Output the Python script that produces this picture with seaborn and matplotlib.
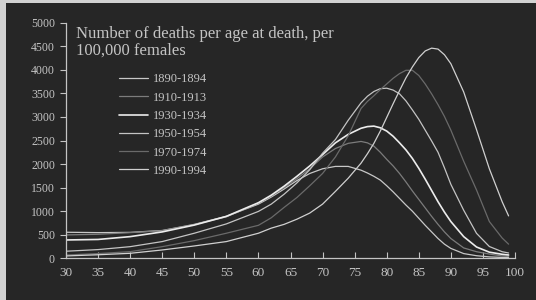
import numpy as np
import pandas as pd
import matplotlib
matplotlib.use("Agg")
import matplotlib.pyplot as plt
from matplotlib.patches import Rectangle
from matplotlib.lines import Line2D
import seaborn as sns

ages = [30, 35, 40, 45, 50, 55, 60, 62, 64, 66, 68, 70, 72, 74, 76, 77, 78, 79,
        80, 81, 82, 83, 84, 85, 86, 87, 88, 89, 90, 92, 94, 96, 98, 99]

deaths_1890 = [553, 545, 550, 590, 720, 890, 1150, 1300, 1470, 1650, 1800, 1900,
               1950, 1950, 1870, 1810, 1740, 1660, 1540, 1410, 1270, 1130, 1000, 850,
               700, 560, 420, 300, 210, 100, 55, 30, 18, 15]
deaths_1910 = [496, 510, 545, 585, 715, 880, 1170, 1320, 1500, 1690, 1900, 2150,
               2330, 2440, 2480, 2450, 2380, 2250, 2100, 1960, 1800, 1620, 1430, 1250,
               1070, 890, 720, 560, 420, 220, 140, 90, 50, 40]
deaths_1930 = [389, 400, 460, 560, 705, 890, 1180, 1340, 1530, 1740, 1960, 2200,
               2450, 2630, 2760, 2795, 2805, 2770, 2700, 2590, 2450, 2300, 2120, 1910,
               1680, 1440, 1200, 980, 780, 460, 240, 130, 85, 70]
deaths_1950 = [150, 185, 247, 355, 532, 730, 995, 1150, 1360, 1600, 1880, 2230,
               2520, 2930, 3300, 3440, 3540, 3600, 3610, 3570, 3490, 3340, 3150, 2950,
               2720, 2490, 2250, 1920, 1570, 1020, 530, 250, 140, 113]
deaths_1970 = [70, 100, 141, 247, 375, 532, 700, 860, 1080, 1290, 1540, 1800,
               2150, 2600, 3180, 3330, 3450, 3580, 3700, 3820, 3920, 3990, 3990, 3880,
               3700, 3490, 3260, 3010, 2720, 2060, 1450, 780, 430, 300]
deaths_1990 = [50, 75, 106, 177, 262, 355, 532, 640, 720, 830, 960, 1150,
               1420, 1700, 2020, 2220, 2440, 2700, 2990, 3280, 3560, 3830, 4060, 4260,
               4400, 4460, 4440, 4320, 4130, 3530, 2730, 1900, 1200, 900]

periods = ["1890-1894", "1910-1913", "1930-1934", "1950-1954", "1970-1974", "1990-1994"]
series = [deaths_1890, deaths_1910, deaths_1930, deaths_1950, deaths_1970, deaths_1990]
colors = ["#c8c8c8", "#7c7c7c", "#ececec", "#c4c4c4", "#6a6a6a", "#d0d0d0"]
widths = [0.9, 0.9, 1.2, 0.9, 0.9, 0.9]

x_ticks = list(range(30, 101, 5))
y_ticks = list(range(0, 5001, 500))
title = "Number of deaths per age at death, per\n100,000 females"

df = pd.DataFrame({
    "age": ages * len(periods),
    "deaths": sum(series, []),
    "period": sum([[p] * len(ages) for p in periods], []),
})

sns.set_theme(style="ticks")
plt.rcParams["font.family"] = ["Liberation Serif", "DejaVu Serif"]

BG = "#262626"
FG = "#c4c4c4"

W, H = 536, 300
fig = plt.figure(figsize=(W / 100, H / 100), dpi=100)
fig.patch.set_facecolor("#d2d2d2")
fig.add_artist(Rectangle((6 / W, 0), 1, (H - 3) / H, transform=fig.transFigure,
                         facecolor=BG, edgecolor="none", zorder=-10))

ax = fig.add_axes([66 / W, (H - 258.3) / H, (515 - 66) / W, (258.3 - 22.7) / H])
ax.set_facecolor(BG)

palette = dict(zip(periods, colors))
sns.lineplot(data=df, x="age", y="deaths", hue="period", palette=palette,
             ax=ax, legend=False, estimator=None, sort=True)
for line, lw in zip(ax.lines, widths):
    line.set_linewidth(lw)

ax.set_xlim(30, 100)
ax.set_ylim(0, 5000)
ax.set_xticks(x_ticks)
ax.set_yticks(y_ticks)
ax.set_xlabel("")
ax.set_ylabel("")
for s in ["top", "right"]:
    ax.spines[s].set_visible(False)
for s in ["left", "bottom"]:
    ax.spines[s].set_color(FG)
    ax.spines[s].set_linewidth(0.9)
ax.tick_params(axis="x", direction="in", length=4, width=0.8, colors=FG,
               labelsize=9.5, pad=6)
ax.tick_params(axis="y", direction="out", length=4, width=0.8, colors=FG,
               labelsize=8.5, pad=4)
ax.margins(0)

fig.text(76 / W, 1 - 25.5 / H, title, color=FG, fontsize=12, ha="left", va="top",
         linespacing=1.12)

handles = [Line2D([], [], color=c, lw=lw) for c, lw in zip(colors, widths)]
leg = fig.legend(handles, periods, loc="upper left",
                 bbox_to_anchor=(119 / W, 1 - 73.5 / H), bbox_transform=fig.transFigure,
                 frameon=False, fontsize=9, handlelength=2.3, handletextpad=0.4,
                 labelspacing=0.5, borderpad=0, borderaxespad=0)
for t in leg.get_texts():
    t.set_color(FG)

fig.savefig("out.png", dpi=100, facecolor=fig.get_facecolor())
